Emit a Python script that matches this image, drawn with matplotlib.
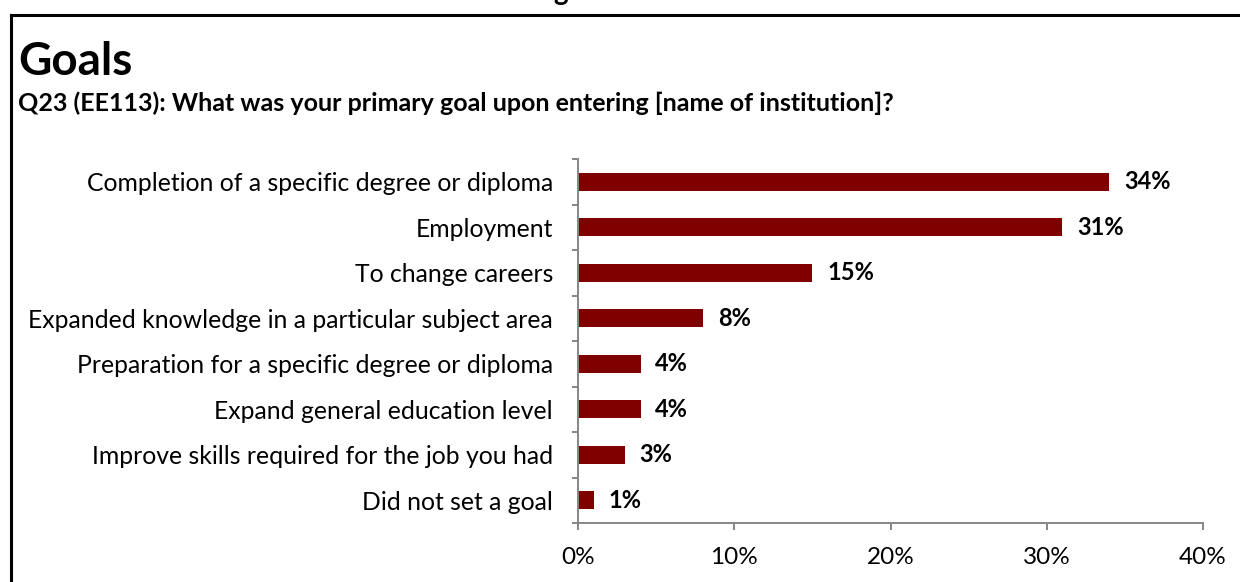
import matplotlib
matplotlib.use("Agg")
import matplotlib.pyplot as plt
from matplotlib.lines import Line2D
from matplotlib.ticker import FixedLocator, PercentFormatter

plt.rcParams['font.family'] = ['Lato', 'DejaVu Sans']

categories = [
    "Completion of a specific degree or diploma",
    "Employment",
    "To change careers",
    "Expanded knowledge in a particular subject area",
    "Preparation for a specific degree or diploma",
    "Expand general education level",
    "Improve skills required for the job you had",
    "Did not set a goal",
]
values = [34, 31, 15, 8, 4, 4, 3, 1]
x_ticks = [0, 10, 20, 30, 40]

bar_color = '#800000'
axis_gray = '#868686'

fig = plt.figure(figsize=(12.4, 5.82), dpi=100)
ax = fig.add_axes([578 / 1240, 1 - 523 / 582, 625 / 1240, (523 - 159) / 582])

pos = list(range(len(categories)))
ax.barh(pos, values, height=0.4, color=bar_color)
ax.set_ylim(len(categories) - 0.5, -0.5)
ax.set_xlim(0, 40)

for p, v in zip(pos, values):
    ax.text(v + 0.95, p, f"{v}%", va='center', ha='left',
            fontsize=17, fontweight='bold', color='black')

ax.set_yticks(pos)
ax.set_yticklabels(categories, fontsize=17.8)
ax.yaxis.set_minor_locator(FixedLocator([i - 0.5 for i in range(len(categories) + 1)]))
ax.tick_params(axis='y', which='major', length=0, pad=18)
ax.tick_params(axis='y', which='minor', length=4, width=1.4, color=axis_gray)

ax.set_xticks(x_ticks)
ax.xaxis.set_major_formatter(PercentFormatter(decimals=0))
ax.tick_params(axis='x', which='major', length=5, width=1.4, color=axis_gray,
               labelsize=17.5, pad=12)

for side in ('top', 'right'):
    ax.spines[side].set_visible(False)
for side in ('left', 'bottom'):
    ax.spines[side].set_color(axis_gray)
    ax.spines[side].set_linewidth(1.4)

# Page heading and question text
fig.text(18 / 1240, 1 - 75 / 582, "Goals", fontsize=33, fontweight='bold',
         ha='left', va='baseline')
fig.text(18 / 1240, 1 - 111 / 582,
         "Q23 (EE113): What was your primary goal upon entering [name of institution]?",
         fontsize=18, fontweight='bold', ha='left', va='baseline')
fig.text(561 / 1240, 1.0, "g", fontsize=20, fontweight='bold',
         ha='center', va='baseline')

# Frame around the slide content
fig.add_artist(Line2D([11 / 1240, 1.0], [1 - 15 / 582, 1 - 15 / 582],
                      transform=fig.transFigure, color='black', linewidth=2.2))
fig.add_artist(Line2D([11 / 1240, 11 / 1240], [1 - 15 / 582, 0.0],
                      transform=fig.transFigure, color='black', linewidth=2.2))

fig.savefig("out.png", dpi=100)
